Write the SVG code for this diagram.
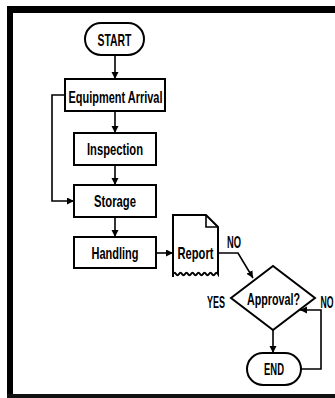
<svg xmlns="http://www.w3.org/2000/svg" width="335" height="398" viewBox="0 0 335 398">
<style>
.shape{fill:#fff;stroke:#000;stroke-width:2}
.conn{fill:none;stroke:#000;stroke-width:1.6}
text{font-family:"Liberation Sans",Arial,sans-serif;font-weight:bold;font-size:17px;fill:#000;text-anchor:middle}
</style>
<defs>
<marker id="ah" markerUnits="userSpaceOnUse" markerWidth="8" markerHeight="8" refX="7" refY="3.5" orient="auto">
<path d="M0,0 L7,3.5 L0,7 z" fill="#000"/>
</marker>
</defs>
<rect x="0" y="0" width="335" height="398" fill="#fff"/>
<g id="frame">
<rect x="7" y="6" width="328" height="7" fill="#000"/>
<rect x="7" y="6" width="6" height="392" fill="#000"/>
<rect x="7" y="394" width="328" height="4" fill="#111"/>
</g>
<g id="connectors">
<line class="conn" x1="115" y1="55" x2="115" y2="79" marker-end="url(#ah)"/>
<line class="conn" x1="115" y1="111" x2="115" y2="133" marker-end="url(#ah)"/>
<line class="conn" x1="115" y1="165" x2="115" y2="185" marker-end="url(#ah)"/>
<line class="conn" x1="115" y1="217" x2="115" y2="237" marker-end="url(#ah)"/>
<path class="conn" d="M65,95 H52 V201 H74" marker-end="url(#ah)"/>
<line class="conn" x1="156" y1="253" x2="173" y2="253" marker-end="url(#ah)"/>
<path class="conn" d="M218,253 H238 L253,278" marker-end="url(#ah)"/>
<line class="conn" x1="273" y1="330" x2="273" y2="353" marker-end="url(#ah)"/>
<path class="conn" d="M301,369 H321 V310 H300" marker-end="url(#ah)"/>
</g>
<g id="start">
<rect class="shape" x="85" y="23" width="59" height="32" rx="16"/>
<text x="114.5" y="45.5" textLength="34" lengthAdjust="spacingAndGlyphs">START</text>
</g>
<g id="equipment-arrival">
<rect class="shape" x="65" y="79" width="100" height="32"/>
<text x="115.5" y="103" textLength="94" lengthAdjust="spacingAndGlyphs">Equipment Arrival</text>
</g>
<g id="inspection">
<rect class="shape" x="74" y="133" width="82" height="32"/>
<text x="115" y="155" textLength="56" lengthAdjust="spacingAndGlyphs">Inspection</text>
</g>
<g id="storage">
<rect class="shape" x="74" y="185" width="82" height="32"/>
<text x="115" y="207" textLength="42" lengthAdjust="spacingAndGlyphs">Storage</text>
</g>
<g id="handling">
<rect class="shape" x="74" y="237" width="82" height="31"/>
<text x="115" y="259" textLength="47" lengthAdjust="spacingAndGlyphs">Handling</text>
</g>
<g id="report">
<path class="shape" d="M173,215 H206 L218,227 V274 q-1.5,-2.5 -3,0 t-3,0 t-3,0 t-3,0 t-3,0 t-3,0 t-3,0 t-3,0 t-3,0 t-3,0 t-3,0 t-3,0 t-3,0 t-3,0 t-3,0 V277 V215 z"/>
<path class="conn" d="M206,215 V227 H218" stroke-width="1.5"/>
<text x="195.5" y="259" textLength="36" lengthAdjust="spacingAndGlyphs">Report</text>
</g>
<g id="label-no-1">
<text x="234" y="248" textLength="14" lengthAdjust="spacingAndGlyphs">NO</text>
</g>
<g id="approval">
<polygon class="shape" points="231,298 273,266 315,298 273,330"/>
<text x="273.5" y="304.5" textLength="53" lengthAdjust="spacingAndGlyphs">Approval?</text>
</g>
<g id="label-yes">
<text x="216" y="307.5" textLength="18" lengthAdjust="spacingAndGlyphs">YES</text>
</g>
<g id="label-no-2">
<text x="327" y="307.5" textLength="13" lengthAdjust="spacingAndGlyphs">NO</text>
</g>
<g id="end">
<rect class="shape" x="247" y="353" width="54" height="32" rx="16"/>
<text x="274" y="375" textLength="20" lengthAdjust="spacingAndGlyphs">END</text>
</g>
</svg>
